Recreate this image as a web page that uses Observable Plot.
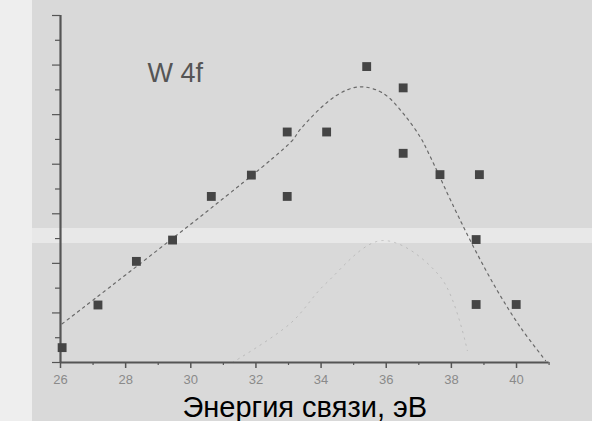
<!DOCTYPE html>
<html>
<head>
<meta charset="utf-8">
<script src="https://cdn.jsdelivr.net/npm/d3@7"></script>
<script src="https://cdn.jsdelivr.net/npm/@observablehq/plot@0.6"></script>
<style>
  html, body { margin: 0; padding: 0; }
  #chart {
    width: 592px; height: 421px; overflow: hidden;
    background:
      linear-gradient(to right, #eeeeee 0 32px, transparent 32px),
      linear-gradient(to bottom, transparent 228px, #e8e8e8 228px 243px, transparent 243px),
      #d9d9d9;
    font-family: "Liberation Sans", Arial, sans-serif;
  }
  #chart svg { display: block; background: transparent; }
</style>
</head>
<body>
<div id="chart"></div>
<script>
// Measured points (binding energy, eV ; intensity, arb. units)
const energy    = [26.05, 27.15, 28.33, 29.44, 30.63, 31.86, 32.96, 32.96, 34.17, 35.40, 36.52, 36.52, 37.65, 38.86, 38.76, 38.76, 39.99];
const intensity = [0.30, 1.16, 2.04, 2.47, 3.35, 3.78, 4.65, 3.35, 4.65, 5.97, 5.54, 4.22, 3.79, 3.79, 2.48, 1.17, 1.17];

// Dotted guide curve
const curveX = [26.05, 33.06, 33.37, 34.19, 34.80, 35.31, 35.93, 36.54, 37.05, 37.31, 38.08, 38.69, 39.41, 40.12, 40.89];
const curveY = [0.78, 4.44, 4.71, 5.25, 5.50, 5.56, 5.42, 5.01, 4.54, 4.21, 3.13, 2.32, 1.45, 0.71, 0.04];

// Faint second guide curve
const faintX = [31.28, 33.06, 34.14, 35.88, 37.67, 38.49];
const faintY = [0.00, 0.79, 1.59, 2.46, 1.72, 0.24];

const xMajor = [26, 28, 30, 32, 34, 36, 38, 40];
const xMinor = [27, 29, 31, 33, 35, 37, 39, 41];
const yMajor = [0, 1, 2, 3, 4, 5, 6, 7];
const yMinor = [0.5, 1.5, 2.5, 3.5, 4.5, 5.5, 6.5];

const title = "W 4f";
const xLabel = "Энергия связи, эВ";

const points = energy.map((x, i) => ({x, y: intensity[i]}));
const curve = curveX.map((x, i) => ({x, y: curveY[i]}));
const faint = faintX.map((x, i) => ({x, y: faintY[i]}));

const axisColor = "#555";

const chart = Plot.plot({
  width: 592,
  height: 421,
  marginLeft: 60,
  marginRight: 43.4,
  marginTop: 15,
  marginBottom: 59,
  style: {background: "transparent", fontFamily: "'Liberation Sans', Arial, sans-serif"},
  x: {domain: [26, 41]},
  y: {domain: [0, 7]},
  marks: [
    Plot.line(faint, {x: "x", y: "y", curve: "catmull-rom", stroke: "#777", strokeWidth: 1, strokeDasharray: "1.5,5", strokeOpacity: 0.3}),
    Plot.line(curve, {x: "x", y: "y", curve: "catmull-rom", stroke: "#6a6a6a", strokeWidth: 1.2, strokeDasharray: "2.5,4"}),
    Plot.axisX({ticks: xMajor, tickSize: 6, tickPadding: 6, fontSize: 13, color: "#8a8a8a", stroke: axisColor, strokeWidth: 1.5, label: null}),
    Plot.axisX({ticks: xMinor, tickSize: 3, text: null, stroke: axisColor, strokeWidth: 1.2, label: null}),
    Plot.axisY({ticks: yMajor, tickSize: 8, text: null, stroke: axisColor, strokeWidth: 1.2, label: null}),
    Plot.axisY({ticks: yMinor, tickSize: 5, text: null, stroke: axisColor, strokeWidth: 1.2, label: null}),
    Plot.ruleY([0], {x1: 26, x2: 41, stroke: axisColor, strokeWidth: 2.2}),
    Plot.ruleX([26], {y1: 0, y2: 7, stroke: axisColor, strokeWidth: 2.2}),
    Plot.dot(points, {x: "x", y: "y", symbol: "square", r: 5, fill: "#454545", stroke: "none"}),
    Plot.text([title], {x: 28.67, y: 5.65, text: d => d, textAnchor: "start", lineAnchor: "bottom", fontSize: 27, fill: "#555"}),
    Plot.text([xLabel], {frameAnchor: "bottom", text: d => d, lineAnchor: "bottom", dy: 54, fontSize: 29, fill: "#000"})
  ]
});
document.getElementById("chart").appendChild(chart);
</script>
</body>
</html>
